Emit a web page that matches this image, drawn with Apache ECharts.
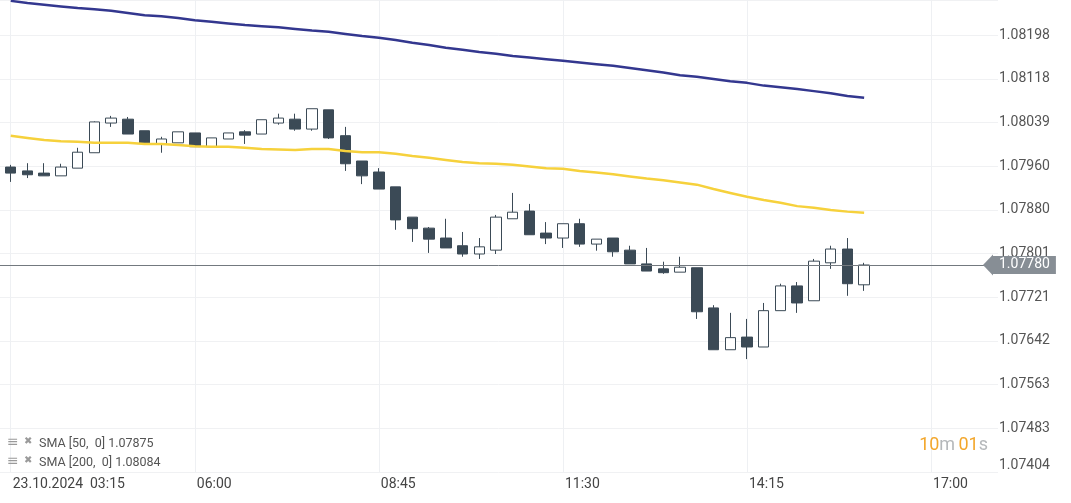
<!DOCTYPE html>
<html>
<head>
<meta charset="utf-8">
<script src="https://cdn.jsdelivr.net/npm/echarts@6/dist/echarts.min.js"></script>
<style>
  html, body { margin: 0; padding: 0; background: #fff; }
  #chart { width: 1071px; height: 503px; }
</style>
</head>
<body>
<div id="chart"></div>
<script>
// 15 minute slots, 03:00 .. 18:00 (candles start at 03:15)
const times = [
  '03:00', '03:15', '03:30', '03:45', '04:00', '04:15', '04:30', '04:45', '05:00', '05:15', '05:30', '05:45',
  '06:00', '06:15', '06:30', '06:45', '07:00', '07:15', '07:30', '07:45', '08:00', '08:15', '08:30', '08:45',
  '09:00', '09:15', '09:30', '09:45', '10:00', '10:15', '10:30', '10:45', '11:00', '11:15', '11:30', '11:45',
  '12:00', '12:15', '12:30', '12:45', '13:00', '13:15', '13:30', '13:45', '14:00', '14:15', '14:30', '14:45',
  '15:00', '15:15', '15:30', '15:45', '16:00', '16:15', '16:30', '16:45', '17:00', '17:15', '17:30', '17:45',
  '18:00'
]
const firstSlot = 1
const dateLabel = '23.10.2024'

const open = [
  1.07958, 1.07951, 1.07947, 1.07942, 1.07956, 1.07984, 1.08038, 1.08045, 1.08024, 1.08000,
  1.08002, 1.08020, 1.07995, 1.08009, 1.08022, 1.08018, 1.08038, 1.08045, 1.08027, 1.08062,
  1.08015, 1.07969, 1.07949, 1.07922, 1.07867, 1.07847, 1.07829, 1.07815, 1.07800, 1.07807,
  1.07864, 1.07878, 1.07838, 1.07829, 1.07855, 1.07818, 1.07829, 1.07807, 1.07782, 1.07773,
  1.07767, 1.07775, 1.07702, 1.07626, 1.07649, 1.07631, 1.07697, 1.07742, 1.07715, 1.07784,
  1.07809, 1.07744
]
const close = [
  1.07947, 1.07944, 1.07942, 1.07958, 1.07985, 1.08040, 1.08047, 1.08018, 1.08002, 1.08009,
  1.08022, 1.07995, 1.08011, 1.08020, 1.08016, 1.08044, 1.08047, 1.08027, 1.08064, 1.08011,
  1.07964, 1.07942, 1.07918, 1.07862, 1.07846, 1.07827, 1.07811, 1.07800, 1.07813, 1.07867,
  1.07876, 1.07835, 1.07829, 1.07855, 1.07818, 1.07827, 1.07804, 1.07782, 1.07769, 1.07766,
  1.07776, 1.07695, 1.07626, 1.07648, 1.07631, 1.07697, 1.07742, 1.07711, 1.07787, 1.07809,
  1.07746, 1.07780
]
const low = [
  1.07931, 1.07938, 1.07942, 1.07942, 1.07956, 1.07984, 1.08031, 1.08018, 1.08002, 1.07984,
  1.08002, 1.07995, 1.07995, 1.08009, 1.08000, 1.08018, 1.08035, 1.08024, 1.08024, 1.08009,
  1.07951, 1.07927, 1.07918, 1.07844, 1.07822, 1.07802, 1.07811, 1.07795, 1.07791, 1.07800,
  1.07864, 1.07835, 1.07818, 1.07811, 1.07813, 1.07806, 1.07795, 1.07782, 1.07769, 1.07764,
  1.07767, 1.07682, 1.07626, 1.07626, 1.07609, 1.07631, 1.07697, 1.07693, 1.07715, 1.07773,
  1.07724, 1.07733
]
const high = [
  1.07962, 1.07965, 1.07965, 1.07964, 1.07993, 1.08041, 1.08051, 1.08049, 1.08024, 1.08013,
  1.08022, 1.08020, 1.08011, 1.08020, 1.08025, 1.08044, 1.08055, 1.08055, 1.08064, 1.08062,
  1.08031, 1.07969, 1.07956, 1.07922, 1.07867, 1.07849, 1.07864, 1.07840, 1.07829, 1.07871,
  1.07911, 1.07891, 1.07858, 1.07855, 1.07864, 1.07827, 1.07829, 1.07815, 1.07811, 1.07786,
  1.07795, 1.07775, 1.07707, 1.07693, 1.07682, 1.07711, 1.07746, 1.07749, 1.07791, 1.07815,
  1.07829, 1.07784
]
const sma50 = [
  1.08015, 1.08011, 1.08007, 1.08005, 1.08004, 1.08002, 1.08002, 1.08002, 1.08000, 1.08000,
  1.07998, 1.07996, 1.07995, 1.07995, 1.07993, 1.07991, 1.07990, 1.07989, 1.07991, 1.07991,
  1.07987, 1.07985, 1.07985, 1.07982, 1.07978, 1.07975, 1.07971, 1.07967, 1.07965, 1.07964,
  1.07962, 1.07959, 1.07956, 1.07955, 1.07951, 1.07948, 1.07945, 1.07941, 1.07937, 1.07934,
  1.07930, 1.07926, 1.07918, 1.07911, 1.07904, 1.07898, 1.07893, 1.07887, 1.07884, 1.07880,
  1.07877, 1.07875
]
const sma200 = [
  1.08260, 1.08256, 1.08253, 1.08250, 1.08247, 1.08245, 1.08242, 1.08238, 1.08234, 1.08232,
  1.08229, 1.08225, 1.08222, 1.08219, 1.08216, 1.08214, 1.08212, 1.08209, 1.08206, 1.08204,
  1.08200, 1.08196, 1.08193, 1.08189, 1.08184, 1.08180, 1.08175, 1.08171, 1.08167, 1.08164,
  1.08160, 1.08157, 1.08154, 1.08151, 1.08148, 1.08145, 1.08142, 1.08138, 1.08134, 1.08130,
  1.08125, 1.08122, 1.08118, 1.08114, 1.08111, 1.08106, 1.08103, 1.08100, 1.08096, 1.08092,
  1.08087, 1.08084
]
// price axis
const yMin = 1.074038
const yStep = 0.000794
const yMax = 1.082616

const lastPrice = close[close.length - 1]
const candleColor = '#3b4a56'
const fontFamily = 'Roboto, "Noto Sans", sans-serif'

const pad = (arr) => {
  const out = times.map(() => '-')
  arr.forEach((v, i) => { out[firstSlot + i] = v })
  return out
}

const candles = times.map(() => '-')
open.forEach((o, i) => {
  candles[firstSlot + i] = [o, close[i], low[i], high[i]]
})

const isMarked = (idx) => idx >= firstSlot && (idx - firstSlot) % 11 === 0

const chart = echarts.init(document.getElementById('chart'), null, { renderer: 'canvas' })

const option = {
  animation: false,
  backgroundColor: '#fff',
  textStyle: { fontFamily },
  grid: {
    left: -6,
    right: 73,
    top: 0,
    bottom: 31,
    containLabel: false,
    outerBoundsMode: 'none',
  },
  xAxis: {
    type: 'category',
    data: times,
    boundaryGap: false,
    axisLine: { show: false },
    axisTick: { show: false },
    axisLabel: {
      interval: (idx) => isMarked(idx),
      align: 'left',
      margin: 5,
      padding: [0, 0, 0, 2],
      color: '#444',
      fontSize: 14,
      fontFamily,
      formatter: (val, idx) => (idx === firstSlot ? dateLabel + '  ' + val : val),
    },
    splitLine: {
      show: true,
      interval: (idx) => isMarked(idx),
      lineStyle: { color: '#eef0f3', width: 1 },
    },
  },
  yAxis: {
    type: 'value',
    position: 'right',
    scale: true,
    min: yMin,
    max: yMax,
    interval: yStep,
    axisLine: { show: false },
    axisTick: { show: false },
    axisLabel: {
      margin: 1,
      color: '#555',
      fontSize: 14,
      fontFamily,
      showMaxLabel: false,
      formatter: (v) => (Math.abs(v - yMin) < 1e-7 ? '{low|' + v.toFixed(5) + '}' : v.toFixed(5)),
      rich: {
        low: { fontSize: 14, color: '#555', fontFamily, padding: [0, 0, 13, 0] },
      },
    },
    splitLine: {
      show: true,
      lineStyle: { color: '#f0f1f3', width: 1 },
    },
  },
  series: [
    {
      name: 'EUR/USD',
      type: 'candlestick',
      data: candles,
      barWidth: 11,
      clip: false,
      z: 2,
      itemStyle: {
        color: '#ffffff',
        color0: candleColor,
        borderColor: candleColor,
        borderColor0: candleColor,
        borderWidth: 1,
      },
    },
    {
      name: 'SMA 200',
      type: 'line',
      data: pad(sma200),
      symbol: 'none',
      smooth: false,
      z: 3,
      lineStyle: { color: '#33378f', width: 2.5 },
    },
    {
      name: 'SMA 50',
      type: 'line',
      data: pad(sma50),
      symbol: 'none',
      smooth: false,
      z: 3,
      lineStyle: { color: '#f6d13c', width: 2.5 },
      markLine: {
        silent: true,
        precision: 5,
        symbol: ['none', 'none'],
        lineStyle: { color: '#73797f', width: 1, type: 'solid' },
        label: {
          show: true,
          position: 'end',
          distance: -5,
          formatter: () => lastPrice.toFixed(5),
          color: '#fff',
          fontSize: 14,
          fontFamily,
          backgroundColor: '#878e95',
          padding: [2, 6, 2, 6],
        },
        data: [{ yAxis: lastPrice }],
      },
    },
  ],
}

chart.setOption(option)

// price tag arrow + legend + countdown
const tagY = chart.convertToPixel({ yAxisIndex: 0 }, lastPrice)
const legendItem = (label, value, top) => ({
  type: 'group',
  left: 7,
  top,
  children: [
    { type: 'text', x: 0, y: 0, style: { text: '≡', fill: '#9a9a9a', font: '14px "DejaVu Sans"' } },
    { type: 'text', x: 17, y: 1, style: { text: '✖', fill: '#9a9a9a', font: '10px "DejaVu Sans"' } },
    { type: 'text', x: 32, y: 2, style: { text: label + ' ' + value.toFixed(5), fill: '#555', font: '12.5px Roboto' } },
  ],
})

chart.setOption({
  graphic: [
    {
      type: 'polygon',
      z: 100,
      shape: { points: [[983, tagY], [993, tagY - 10.5], [993, tagY + 10.5]] },
      style: { fill: '#878e95' },
    },
    legendItem('SMA [50,  0]', sma50[sma50.length - 1], 435),
    legendItem('SMA [200,  0]', sma200[sma200.length - 1], 454),
    {
      type: 'text',
      right: 83,
      top: 436,
      style: {
        rich: {
          n: { fill: '#f3a72c', font: '18px Roboto' },
          u: { fill: '#b5b8bb', font: '18px Roboto' },
        },
        text: '{n|10}{u|m} {n|01}{u|s}',
      },
    },
  ],
})
</script>
</body>
</html>
